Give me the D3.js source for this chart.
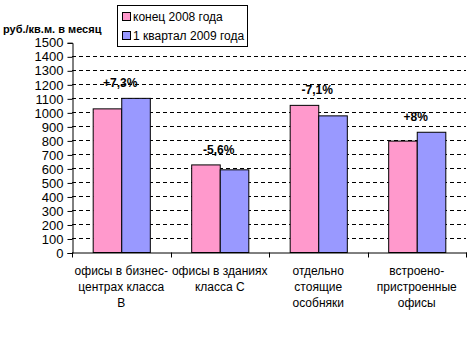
<!DOCTYPE html>
<html><head><meta charset="utf-8">
<script src="https://cdn.jsdelivr.net/npm/d3@7/dist/d3.min.js"></script>
<style>body{margin:0;background:#fff}svg{display:block;font-family:"Liberation Sans",Arial,sans-serif}</style>
</head><body><svg id="c" width="476" height="337"></svg>
<script>
const categories = [
  ["офисы в бизнес-", "центрах класса", "В"],
  ["офисы в зданиях", "класса С"],
  ["отдельно", "стоящие", "особняки"],
  ["встроено-", "пристроенные", "офисы"]
];
const seriesNames = ["конец 2008 года", "1 квартал 2009 года"];
const values2008 = [1025, 625, 1050, 795];
const values2009 = [1100, 590, 975, 858];
const changeLabels = ["+7,3%", "-5,6%", "-7,1%", "+8%"];
const yTicks = d3.range(0, 1501, 100);
const colors = ["#FF99CC", "#9999FF"];

const svg = d3.select("#c");
const L = 72, R = 466, T = 42.3, B = 252.5;
const y = d3.scaleLinear().domain([0, 1500]).range([B, T]);
const x0 = d3.scaleBand().domain(d3.range(categories.length)).range([L, R]).paddingInner(0.42).paddingOuter(0.21);
const x1 = d3.scaleBand().domain([0, 1]).range([0, x0.bandwidth()]);

// gridlines
svg.append("g").selectAll("line").data(yTicks.filter(v => v > 0 && v < 1500)).join("line")
  .attr("x1", L).attr("x2", R).attr("y1", d => Math.round(y(d)) + 0.5).attr("y2", d => Math.round(y(d)) + 0.5)
  .attr("stroke", "#000").attr("stroke-dasharray", "4,3");

// bars
const series = [values2008, values2009];
series.forEach((vals, si) => {
  svg.append("g").selectAll("rect").data(vals).join("rect")
    .attr("x", (d, i) => x0(i) + x1(si) + 0.5)
    .attr("y", d => y(d))
    .attr("width", x1.bandwidth())
    .attr("height", d => B - y(d))
    .attr("fill", colors[si]).attr("stroke", "#000").attr("stroke-width", 1);
});

// y axis
const yAxis = d3.axisLeft(y).tickValues(yTicks).tickFormat(d3.format("d")).tickSize(5).tickPadding(4);
const gy = svg.append("g").attr("transform", `translate(${L + 0.5},0.5)`).call(yAxis);
gy.selectAll("text").attr("font-size", 13).attr("fill", "#000").attr("font-family", "Liberation Sans, Arial, sans-serif");
gy.selectAll("line,path").attr("stroke", "#000");

// x axis
svg.append("line").attr("x1", L).attr("x2", R + 1).attr("y1", B + 0.5).attr("y2", B + 0.5).attr("stroke", "#000");
const bounds = d3.range(categories.length + 1).map(i => L + i * x0.step());
svg.append("g").selectAll("line").data(bounds).join("line")
  .attr("x1", d => Math.round(d) + 0.5).attr("x2", d => Math.round(d) + 0.5)
  .attr("y1", B).attr("y2", B + 5).attr("stroke", "#000");

// category labels
categories.forEach((lines, i) => {
  const cx = x0(i) + x0.bandwidth() / 2;
  const t = svg.append("text").attr("text-anchor", "middle").attr("font-size", 12).attr("fill", "#000");
  lines.forEach((s, j) => t.append("tspan").attr("x", cx).attr("y", 275 + j * 16).text(s));
});

// change labels
changeLabels.forEach((s, i) => {
  const top = y(Math.max(values2008[i], values2009[i]));
  svg.append("text").attr("x", x0(i) + x0.bandwidth() / 2 - 1).attr("y", top - 11)
    .attr("text-anchor", "middle").attr("font-size", 12).attr("font-weight", "bold").text(s);
});

// y title
svg.append("text").attr("x", 3).attr("y", 33).attr("font-size", 11).attr("font-weight", "bold").text("руб./кв.м. в месяц");

// legend
const lg = svg.append("g");
lg.append("rect").attr("x", 117.5).attr("y", 5.5).attr("width", 130).attr("height", 41).attr("fill", "#fff").attr("stroke", "#000");
seriesNames.forEach((s, i) => {
  lg.append("rect").attr("x", 122.5).attr("y", 12.5 + i * 19).attr("width", 8).attr("height", 8).attr("fill", colors[i]).attr("stroke", "#000");
  lg.append("text").attr("x", 133).attr("y", 21 + i * 19).attr("font-size", 12).text(s);
});
</script></body></html>
